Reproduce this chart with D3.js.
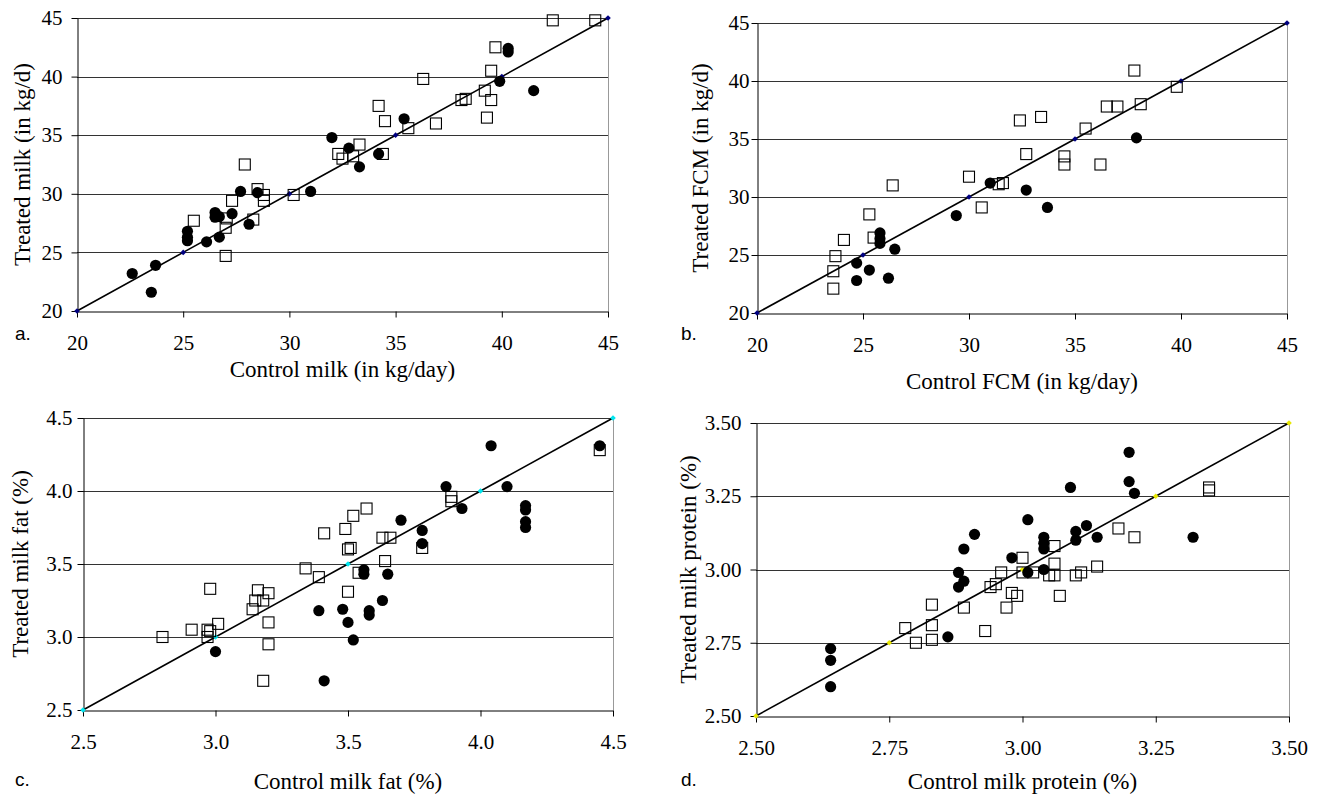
<!DOCTYPE html>
<html>
<head>
<meta charset="utf-8">
<script src="https://cdn.jsdelivr.net/npm/d3@7"></script>
<style>
body { margin: 0; background: #fff; }
</style>
</head>
<body>
<div id="chart"></div>
<script>
// values: [control, treated]
var milk_filled = [[22.6,23.2],[23.5,21.6],[23.7,23.9],[25.2,26.8],[25.2,26.3],[25.2,26.0],[26.1,25.9],[26.7,26.3],
    [26.5,28.4],[26.5,28.0],[26.7,28.05],[27.3,28.3],[27.7,30.2],[28.1,27.4],[28.5,30.1],[31.0,30.2],[32.0,34.8],
    [32.8,33.9],[33.3,32.3],[34.2,33.4],[35.4,36.4],[39.9,39.6],[40.3,42.4],[40.3,42.1],[41.5,38.8]];
var milk_open = [[25.5,27.7],[27.0,24.7],[27.0,27.1],[27.05,27.9],[27.3,29.4],[27.9,32.5],[28.3,27.8],[28.5,30.4],
    [28.8,29.9],[28.8,29.4],[30.2,29.9],[32.3,33.4],[32.5,33.0],[33.0,33.2],[33.3,34.2],[34.2,37.5],[34.4,33.4],
    [34.5,36.2],[35.6,35.6],[36.3,39.8],[36.9,36.0],[38.1,38.0],[38.3,38.1],[39.2,38.8],[39.3,36.5],[39.5,40.5],
    [39.5,38.0],[39.7,42.5],[42.4,44.8],[44.4,44.8]];

var fcm_filled = [[24.7,24.3],[24.7,22.8],[25.3,23.7],[25.8,26.9],[25.8,26.4],[25.8,26.0],[26.2,23.0],[26.5,25.5],
    [29.4,28.4],[31.0,31.2],[32.7,30.6],[33.7,29.1],[37.9,35.1]];
var fcm_open = [[23.6,22.1],[23.6,23.6],[23.7,24.9],[24.1,26.3],[25.3,28.5],[25.5,26.5],[26.4,31.0],[30.0,31.75],
    [30.6,29.1],[31.4,31.1],[31.6,31.2],[32.4,36.6],[32.7,33.7],[33.4,36.9],[34.5,33.5],[34.5,32.8],[35.5,35.9],
    [36.2,32.8],[36.5,37.8],[37.0,37.8],[37.8,40.9],[38.1,38.0],[39.8,39.5]];

var fat_filled = [[3.00,2.90],[3.39,3.18],[3.41,2.70],[3.48,3.19],[3.50,3.10],[3.52,2.98],[3.56,3.46],[3.56,3.43],
    [3.58,3.18],[3.58,3.15],[3.63,3.25],[3.65,3.43],[3.70,3.80],[3.78,3.73],[3.78,3.64],[3.87,4.03],[3.93,3.88],
    [4.04,4.31],[4.10,4.03],[4.17,3.90],[4.17,3.87],[4.17,3.79],[4.17,3.75],[4.45,4.31]];
var fat_open = [[2.80,3.00],[2.91,3.05],[2.97,3.05],[2.98,3.04],[2.97,3.00],[2.98,3.33],[3.01,3.09],[3.14,3.19],
    [3.15,3.25],[3.16,3.32],[3.18,3.25],[3.18,2.70],[3.20,3.30],[3.20,3.10],[3.20,2.95],[3.34,3.47],[3.39,3.41],
    [3.41,3.71],[3.49,3.74],[3.50,3.31],[3.50,3.60],[3.51,3.61],[3.52,3.83],[3.54,3.44],[3.57,3.88],[3.63,3.68],
    [3.64,3.52],[3.66,3.68],[3.78,3.61],[3.89,3.96],[3.89,3.93],[4.45,4.28]];

var protein_filled = [[2.64,2.73],[2.64,2.69],[2.64,2.60],[2.86,2.77],[2.88,2.99],[2.88,2.94],[2.89,2.96],[2.89,3.07],
    [2.91,3.12],[2.98,3.04],[3.01,2.99],[3.01,3.17],[3.04,3.11],[3.04,3.09],[3.04,3.07],[3.04,3.00],[3.09,3.28],
    [3.10,3.13],[3.10,3.10],[3.12,3.15],[3.14,3.11],[3.20,3.40],[3.20,3.30],[3.21,3.26],[3.32,3.11]];
var protein_open = [[2.78,2.80],[2.80,2.75],[2.83,2.88],[2.83,2.81],[2.83,2.76],[2.89,2.87],[2.93,2.79],[2.94,2.94],
    [2.95,2.95],[2.96,2.99],[2.97,2.87],[2.98,2.92],[2.99,2.91],[3.00,3.04],[3.00,2.99],[3.02,2.99],[3.05,2.98],
    [3.06,2.98],[3.06,3.02],[3.06,3.08],[3.07,2.91],[3.10,2.98],[3.11,2.99],[3.14,3.01],[3.18,3.14],[3.21,3.11],
    [3.35,3.28],[3.35,3.27]];

var milk_ticks = [20, 25, 30, 35, 40, 45];
var fat_ticks = [2.5, 3.0, 3.5, 4.0, 4.5];
var protein_ticks = [2.5, 2.75, 3.0, 3.25, 3.5];

var serif = "'Liberation Serif','Times New Roman',serif";

var svg = d3.select("#chart")
    .append("svg")
    .attr("width", 1322)
    .attr("height", 797);

var panels = [
    { left: 77, top: 18, right: 608, bottom: 311, ticks: milk_ticks, fmt: d3.format("d"),
      filled: milk_filled, open: milk_open, xTitle: "Control milk (in kg/day)", yTitle: "Treated milk (in kg/d)",
      yPad: 9, xTitleDy: 66, yTitleX: 22, letter: "a.", letterX: 15, letterY: 340, mark: "#000080" },
    { left: 757, top: 23, right: 1287, bottom: 313, ticks: milk_ticks, fmt: d3.format("d"),
      filled: fcm_filled, open: fcm_open, xTitle: "Control FCM (in kg/day)", yTitle: "Treated FCM (in kg/d)",
      yPad: 2, xTitleDy: 76, yTitleX: 700, letter: "b.", letterX: 681, letterY: 340, mark: "#000080" },
    { left: 83, top: 418, right: 613, bottom: 710, ticks: fat_ticks, fmt: d3.format(".1f"),
      filled: fat_filled, open: fat_open, xTitle: "Control milk fat (%)", yTitle: "Treated milk fat (%)",
      yPad: 5, xTitleDy: 79, yTitleX: 20, letter: "c.", letterX: 15, letterY: 786, mark: "#00e5ee" },
    { left: 756, top: 423, right: 1289, bottom: 716, ticks: protein_ticks, fmt: d3.format(".2f"),
      filled: protein_filled, open: protein_open, xTitle: "Control milk protein (%)", yTitle: "Treated milk protein (%)",
      yPad: 9, xTitleDy: 73, yTitleX: 688, letter: "d.", letterX: 681, letterY: 786, mark: "#e8e800" }
];

panels.forEach(function (p) { draw_panel(p); });

function draw_panel(p) {
    var lo = p.ticks[0], hi = p.ticks[p.ticks.length - 1];
    var x = d3.scaleLinear().domain([lo, hi]).range([p.left, p.right]);
    var y = d3.scaleLinear().domain([lo, hi]).range([p.bottom, p.top]);
    var g = svg.append("g");

    // horizontal grid lines
    g.selectAll(".grid")
        .data(p.ticks.slice(1))
        .enter().append("line")
        .attr("x1", p.left).attr("x2", p.right)
        .attr("y1", function (d) { return Math.round(y(d)) + 0.5; })
        .attr("y2", function (d) { return Math.round(y(d)) + 0.5; })
        .attr("stroke", "#333")
        .attr("stroke-width", 1);

    // right border of plot area
    g.append("line")
        .attr("x1", Math.round(p.right) + 0.5).attr("x2", Math.round(p.right) + 0.5)
        .attr("y1", p.top).attr("y2", p.bottom)
        .attr("stroke", "#999")
        .attr("stroke-width", 1);

    var xAxis = g.append("g")
        .attr("transform", "translate(0," + (Math.round(p.bottom) + 0.5) + ")")
        .call(d3.axisBottom(x).tickValues(p.ticks).tickFormat(p.fmt).tickSize(6).tickSizeOuter(0).tickPadding(18));
    var yAxis = g.append("g")
        .attr("transform", "translate(" + (Math.round(p.left) + 0.5) + ",0)")
        .call(d3.axisLeft(y).tickValues(p.ticks).tickFormat(p.fmt).tickSize(6).tickSizeOuter(0).tickPadding(p.yPad));

    [xAxis, yAxis].forEach(function (a) {
        a.selectAll("path, line").attr("stroke", "#000").attr("stroke-width", 1);
        a.selectAll("text")
            .attr("fill", "#000")
            .style("font-family", serif)
            .style("font-size", "21px");
    });

    // 1:1 line
    var line = d3.line()
        .x(function (d) { return x(d); })
        .y(function (d) { return y(d); });
    g.append("path")
        .datum(p.ticks)
        .attr("d", line)
        .attr("fill", "none")
        .attr("stroke", "#000")
        .attr("stroke-width", 1.6);

    g.selectAll(".mark")
        .data(p.ticks)
        .enter().append("rect")
        .attr("x", function (d) { return x(d) - 2; })
        .attr("y", function (d) { return y(d) - 2; })
        .attr("width", 4).attr("height", 4)
        .attr("transform", function (d) { return "rotate(45," + x(d) + "," + y(d) + ")"; })
        .attr("fill", p.mark);

    g.selectAll(".open")
        .data(p.open)
        .enter().append("rect")
        .attr("x", function (d) { return x(d[0]) - 5.5; })
        .attr("y", function (d) { return y(d[1]) - 5.5; })
        .attr("width", 11).attr("height", 11)
        .attr("fill", "none")
        .attr("stroke", "#000")
        .attr("stroke-width", 1.1);

    g.selectAll(".filled")
        .data(p.filled)
        .enter().append("circle")
        .attr("cx", function (d) { return x(d[0]); })
        .attr("cy", function (d) { return y(d[1]); })
        .attr("r", 5.6)
        .attr("fill", "#000");

    g.append("text")
        .attr("x", (p.left + p.right) / 2)
        .attr("y", p.bottom + p.xTitleDy)
        .attr("text-anchor", "middle")
        .style("font-family", serif)
        .style("font-size", "23px")
        .text(p.xTitle);

    g.append("text")
        .attr("transform", "translate(" + (p.yTitleX + 8) + "," + (p.top + p.bottom) / 2 + ") rotate(-90)")
        .attr("text-anchor", "middle")
        .style("font-family", serif)
        .style("font-size", "23px")
        .text(p.yTitle);

    g.append("text")
        .attr("x", p.letterX)
        .attr("y", p.letterY)
        .style("font-family", "'Liberation Sans',Arial,sans-serif")
        .style("font-size", "19px")
        .text(p.letter);
}
</script>
</body>
</html>
